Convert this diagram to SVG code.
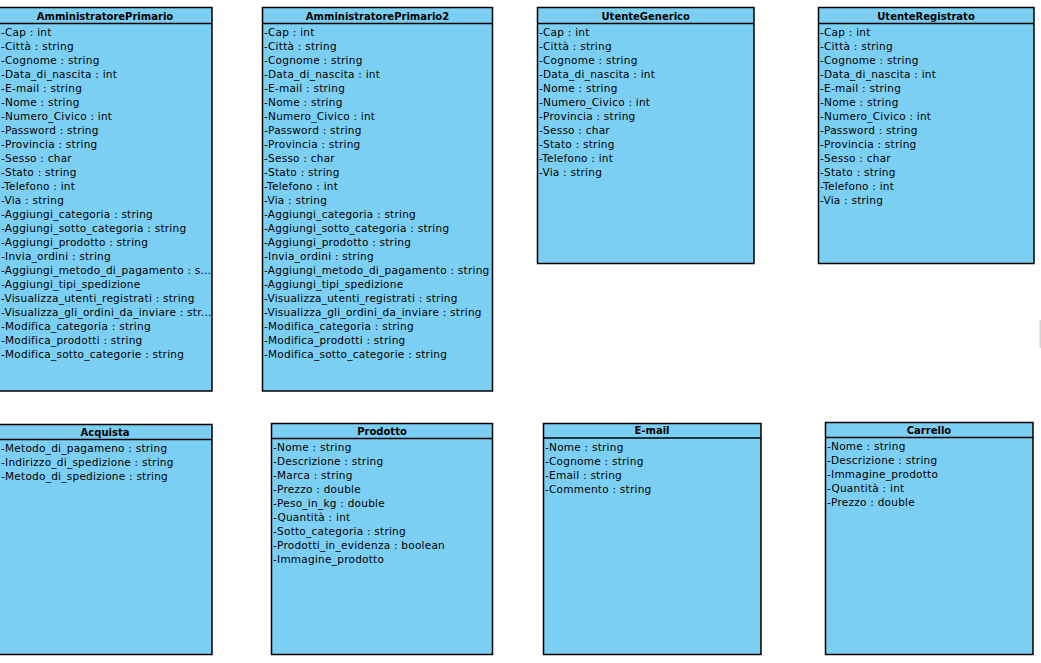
<svg xmlns="http://www.w3.org/2000/svg" width="1041" height="663" viewBox="0 0 1041 663">
<style>
.box{fill:#7BCFF3;stroke:#000;stroke-width:1.5}
.sep{stroke:#000;stroke-width:1.3}
.t{font-family:"DejaVu Sans","Liberation Sans",sans-serif;font-size:10.5px;letter-spacing:0.25px;fill:#000}
.h{font-family:"DejaVu Sans","Liberation Sans",sans-serif;font-size:10px;font-weight:bold;fill:#000;text-anchor:middle}
</style>
<rect width="1041" height="663" fill="#fff"/>
<g id="AmministratorePrimario">
<rect class="box" x="-2" y="7.5" width="214" height="383.5"/>
<line class="sep" x1="-2" y1="23.5" x2="212" y2="23.5"/>
<text class="h" x="105" y="19.5">AmministratorePrimario</text>
<g transform="translate(0,1)">
<text class="t" x="1" y="35">-Cap : int</text>
<text class="t" x="1" y="49">-Città : string</text>
<text class="t" x="1" y="63">-Cognome : string</text>
<text class="t" x="1" y="77">-Data_di_nascita : int</text>
<text class="t" x="1" y="91">-E-mail : string</text>
<text class="t" x="1" y="105">-Nome : string</text>
<text class="t" x="1" y="119">-Numero_Civico : int</text>
<text class="t" x="1" y="133">-Password : string</text>
<text class="t" x="1" y="147">-Provincia : string</text>
<text class="t" x="1" y="161">-Sesso : char</text>
<text class="t" x="1" y="175">-Stato : string</text>
<text class="t" x="1" y="189">-Telefono : int</text>
<text class="t" x="1" y="203">-Via : string</text>
<text class="t" x="1" y="217">-Aggiungi_categoria : string</text>
<text class="t" x="1" y="231">-Aggiungi_sotto_categoria : string</text>
<text class="t" x="1" y="245">-Aggiungi_prodotto : string</text>
<text class="t" x="1" y="259">-Invia_ordini : string</text>
<text class="t" x="1" y="273">-Aggiungi_metodo_di_pagamento : s...</text>
<text class="t" x="1" y="287">-Aggiungi_tipi_spedizione</text>
<text class="t" x="1" y="301">-Visualizza_utenti_registrati : string</text>
<text class="t" x="1" y="315">-Visualizza_gli_ordini_da_inviare : str...</text>
<text class="t" x="1" y="329">-Modifica_categoria : string</text>
<text class="t" x="1" y="343">-Modifica_prodotti : string</text>
<text class="t" x="1" y="357">-Modifica_sotto_categorie : string</text>
</g>
</g>
<g id="AmministratorePrimario2">
<rect class="box" x="262.5" y="7.5" width="230" height="383.5"/>
<line class="sep" x1="262.5" y1="23.5" x2="492.5" y2="23.5"/>
<text class="h" x="377.5" y="19.5">AmministratorePrimario2</text>
<g transform="translate(0,1)">
<text class="t" x="264" y="35">-Cap : int</text>
<text class="t" x="264" y="49">-Città : string</text>
<text class="t" x="264" y="63">-Cognome : string</text>
<text class="t" x="264" y="77">-Data_di_nascita : int</text>
<text class="t" x="264" y="91">-E-mail : string</text>
<text class="t" x="264" y="105">-Nome : string</text>
<text class="t" x="264" y="119">-Numero_Civico : int</text>
<text class="t" x="264" y="133">-Password : string</text>
<text class="t" x="264" y="147">-Provincia : string</text>
<text class="t" x="264" y="161">-Sesso : char</text>
<text class="t" x="264" y="175">-Stato : string</text>
<text class="t" x="264" y="189">-Telefono : int</text>
<text class="t" x="264" y="203">-Via : string</text>
<text class="t" x="264" y="217">-Aggiungi_categoria : string</text>
<text class="t" x="264" y="231">-Aggiungi_sotto_categoria : string</text>
<text class="t" x="264" y="245">-Aggiungi_prodotto : string</text>
<text class="t" x="264" y="259">-Invia_ordini : string</text>
<text class="t" x="264" y="273">-Aggiungi_metodo_di_pagamento : string</text>
<text class="t" x="264" y="287">-Aggiungi_tipi_spedizione</text>
<text class="t" x="264" y="301">-Visualizza_utenti_registrati : string</text>
<text class="t" x="264" y="315">-Visualizza_gli_ordini_da_inviare : string</text>
<text class="t" x="264" y="329">-Modifica_categoria : string</text>
<text class="t" x="264" y="343">-Modifica_prodotti : string</text>
<text class="t" x="264" y="357">-Modifica_sotto_categorie : string</text>
</g>
</g>
<g id="UtenteGenerico">
<rect class="box" x="537.5" y="7.5" width="216.5" height="256"/>
<line class="sep" x1="537.5" y1="23.5" x2="754" y2="23.5"/>
<text class="h" x="645.7" y="19.5">UtenteGenerico</text>
<g transform="translate(0,1)">
<text class="t" x="539" y="35">-Cap : int</text>
<text class="t" x="539" y="49">-Città : string</text>
<text class="t" x="539" y="63">-Cognome : string</text>
<text class="t" x="539" y="77">-Data_di_nascita : int</text>
<text class="t" x="539" y="91">-Nome : string</text>
<text class="t" x="539" y="105">-Numero_Civico : int</text>
<text class="t" x="539" y="119">-Provincia : string</text>
<text class="t" x="539" y="133">-Sesso : char</text>
<text class="t" x="539" y="147">-Stato : string</text>
<text class="t" x="539" y="161">-Telefono : int</text>
<text class="t" x="539" y="175">-Via : string</text>
</g>
</g>
<g id="UtenteRegistrato">
<rect class="box" x="818.5" y="7.5" width="215.5" height="256"/>
<line class="sep" x1="818.5" y1="23.5" x2="1034" y2="23.5"/>
<text class="h" x="926" y="19.5">UtenteRegistrato</text>
<g transform="translate(0,1)">
<text class="t" x="820" y="35">-Cap : int</text>
<text class="t" x="820" y="49">-Città : string</text>
<text class="t" x="820" y="63">-Cognome : string</text>
<text class="t" x="820" y="77">-Data_di_nascita : int</text>
<text class="t" x="820" y="91">-E-mail : string</text>
<text class="t" x="820" y="105">-Nome : string</text>
<text class="t" x="820" y="119">-Numero_Civico : int</text>
<text class="t" x="820" y="133">-Password : string</text>
<text class="t" x="820" y="147">-Provincia : string</text>
<text class="t" x="820" y="161">-Sesso : char</text>
<text class="t" x="820" y="175">-Stato : string</text>
<text class="t" x="820" y="189">-Telefono : int</text>
<text class="t" x="820" y="203">-Via : string</text>
</g>
</g>
<g id="Acquista">
<rect class="box" x="-2" y="424.5" width="214" height="230"/>
<line class="sep" x1="-2" y1="439.5" x2="212" y2="439.5"/>
<text class="h" x="105" y="435.5">Acquista</text>
<text class="t" x="1" y="451.5">-Metodo_di_pagameno : string</text>
<text class="t" x="1" y="465.5">-Indirizzo_di_spedizione : string</text>
<text class="t" x="1" y="479.5">-Metodo_di_spedizione : string</text>
</g>
<g id="Prodotto">
<rect class="box" x="271.5" y="423.5" width="221" height="231"/>
<line class="sep" x1="271.5" y1="438.5" x2="492.5" y2="438.5"/>
<text class="h" x="382" y="434.5">Prodotto</text>
<text class="t" x="273" y="450.5">-Nome : string</text>
<text class="t" x="273" y="464.5">-Descrizione : string</text>
<text class="t" x="273" y="478.5">-Marca : string</text>
<text class="t" x="273" y="492.5">-Prezzo : double</text>
<text class="t" x="273" y="506.5">-Peso_in_kg : double</text>
<text class="t" x="273" y="520.5">-Quantità : int</text>
<text class="t" x="273" y="534.5">-Sotto_categoria : string</text>
<text class="t" x="273" y="548.5">-Prodotti_in_evidenza : boolean</text>
<text class="t" x="273" y="562.5">-Immagine_prodotto</text>
</g>
<g id="E-mail">
<rect class="box" x="543.5" y="423.5" width="217.5" height="231"/>
<line class="sep" x1="543.5" y1="438" x2="761" y2="438"/>
<text class="h" x="652" y="434">E-mail</text>
<text class="t" x="545" y="451">-Nome : string</text>
<text class="t" x="545" y="465">-Cognome : string</text>
<text class="t" x="545" y="479">-Email : string</text>
<text class="t" x="545" y="493">-Commento : string</text>
</g>
<g id="Carrello">
<rect class="box" x="825.5" y="422.5" width="207.5" height="232"/>
<line class="sep" x1="825.5" y1="437.5" x2="1033" y2="437.5"/>
<text class="h" x="929" y="433.5">Carrello</text>
<text class="t" x="827" y="449.5">-Nome : string</text>
<text class="t" x="827" y="463.5">-Descrizione : string</text>
<text class="t" x="827" y="477.5">-Immagine_prodotto</text>
<text class="t" x="827" y="491.5">-Quantità : int</text>
<text class="t" x="827" y="505.5">-Prezzo : double</text>
</g>
<g id="connectors"></g>
<rect x="1039.5" y="320" width="1.5" height="28" fill="#d4d4d4"/>
</svg>
